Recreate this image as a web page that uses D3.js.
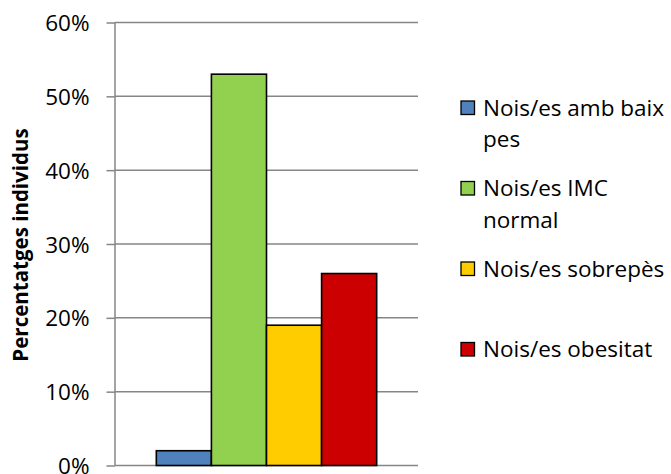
<!DOCTYPE html>
<html>
<head>
<meta charset="utf-8">
<script src="https://cdn.jsdelivr.net/npm/d3@7"></script>
<style>
  html, body { margin: 0; padding: 0; background: #fff; }
  svg { display: block; font-family: "Open Sans", sans-serif; }
</style>
</head>
<body>
<svg id="chart" width="671" height="474"></svg>
<script>
// Weight categories and their share of individuals (%)
const categories = ["Nois/es amb baix pes", "Nois/es IMC normal", "Nois/es sobrepès", "Nois/es obesitat"];
const legendLines = [["Nois/es amb baix", "pes"], ["Nois/es IMC", "normal"], ["Nois/es sobrepès"], ["Nois/es obesitat"]];
const values = [2, 53, 19, 26];
const colors = ["#4F81BD", "#92D050", "#FFCC00", "#CC0000"];
const yTicks = [0, 10, 20, 30, 40, 50, 60];
const yTitle = "Percentatges individus";

const svg = d3.select("#chart");
const plot = { left: 115, right: 418, top: 22.5, bottom: 465.5 };

const y = d3.scaleLinear().domain([0, 60]).range([plot.bottom, plot.top]);

// One category group with bars side by side; gap width 150% of a bar
const group = d3.scaleBand().domain(["g"]).range([plot.left, plot.right])
  .paddingInner(0).paddingOuter(0.75 / categories.length);
const x = d3.scaleBand().domain(categories).range([group("g"), group("g") + group.bandwidth()]).padding(0);

// Gridlines
svg.append("g")
  .selectAll("line")
  .data(yTicks)
  .join("line")
  .attr("x1", plot.left).attr("x2", plot.right)
  .attr("y1", d => y(d)).attr("y2", d => y(d))
  .attr("stroke", "#868686").attr("stroke-width", 1.5);

// Y axis with outward ticks
const yAxis = d3.axisLeft(y).tickValues(yTicks).tickFormat(d => d + "%").tickSize(8.5).tickPadding(17);
const ag = svg.append("g").attr("transform", `translate(${plot.left},0)`).call(yAxis);
ag.select(".domain").attr("stroke", "#868686").attr("stroke-width", 1.5)
  .attr("d", `M0,${plot.bottom}V${plot.top}`);
ag.selectAll(".tick line").attr("stroke", "#868686").attr("stroke-width", 1.5);
ag.selectAll(".tick text")
  .attr("fill", "#000")
  .style("font-family", "'Open Sans', sans-serif")
  .style("font-size", "22.5px")
  .attr("dy", "0.36em");

// Bars
svg.append("g")
  .selectAll("rect")
  .data(values)
  .join("rect")
  .attr("x", (d, i) => x(categories[i]))
  .attr("width", x.bandwidth())
  .attr("y", d => y(d))
  .attr("height", d => y(0) - y(d))
  .attr("fill", (d, i) => colors[i])
  .attr("stroke", "#000")
  .attr("stroke-width", 1.6);

// Axis title
svg.append("text")
  .attr("transform", `translate(28,245) rotate(-90)`)
  .attr("text-anchor", "middle")
  .style("font-size", "20.5px")
  .style("font-weight", "bold")
  .attr("fill", "#000")
  .text(yTitle);

// Legend
const legend = svg.append("g").attr("transform", "translate(461,101)");
const items = legend.selectAll("g")
  .data(categories)
  .join("g")
  .attr("transform", (d, i) => `translate(0,${i * 80.5})`);
items.append("rect")
  .attr("width", 13.5).attr("height", 13.5)
  .attr("fill", (d, i) => colors[i])
  .attr("stroke", "#000").attr("stroke-width", 1.3);
items.append("text")
  .attr("x", 22)
  .attr("y", 14.5)
  .attr("fill", "#000")
  .style("font-size", "22.5px")
  .selectAll("tspan")
  .data((d, i) => legendLines[i])
  .join("tspan")
  .attr("x", 22)
  .attr("dy", (d, j) => j === 0 ? 0 : 31.7)
  .text(d => d);
</script>
</body>
</html>
